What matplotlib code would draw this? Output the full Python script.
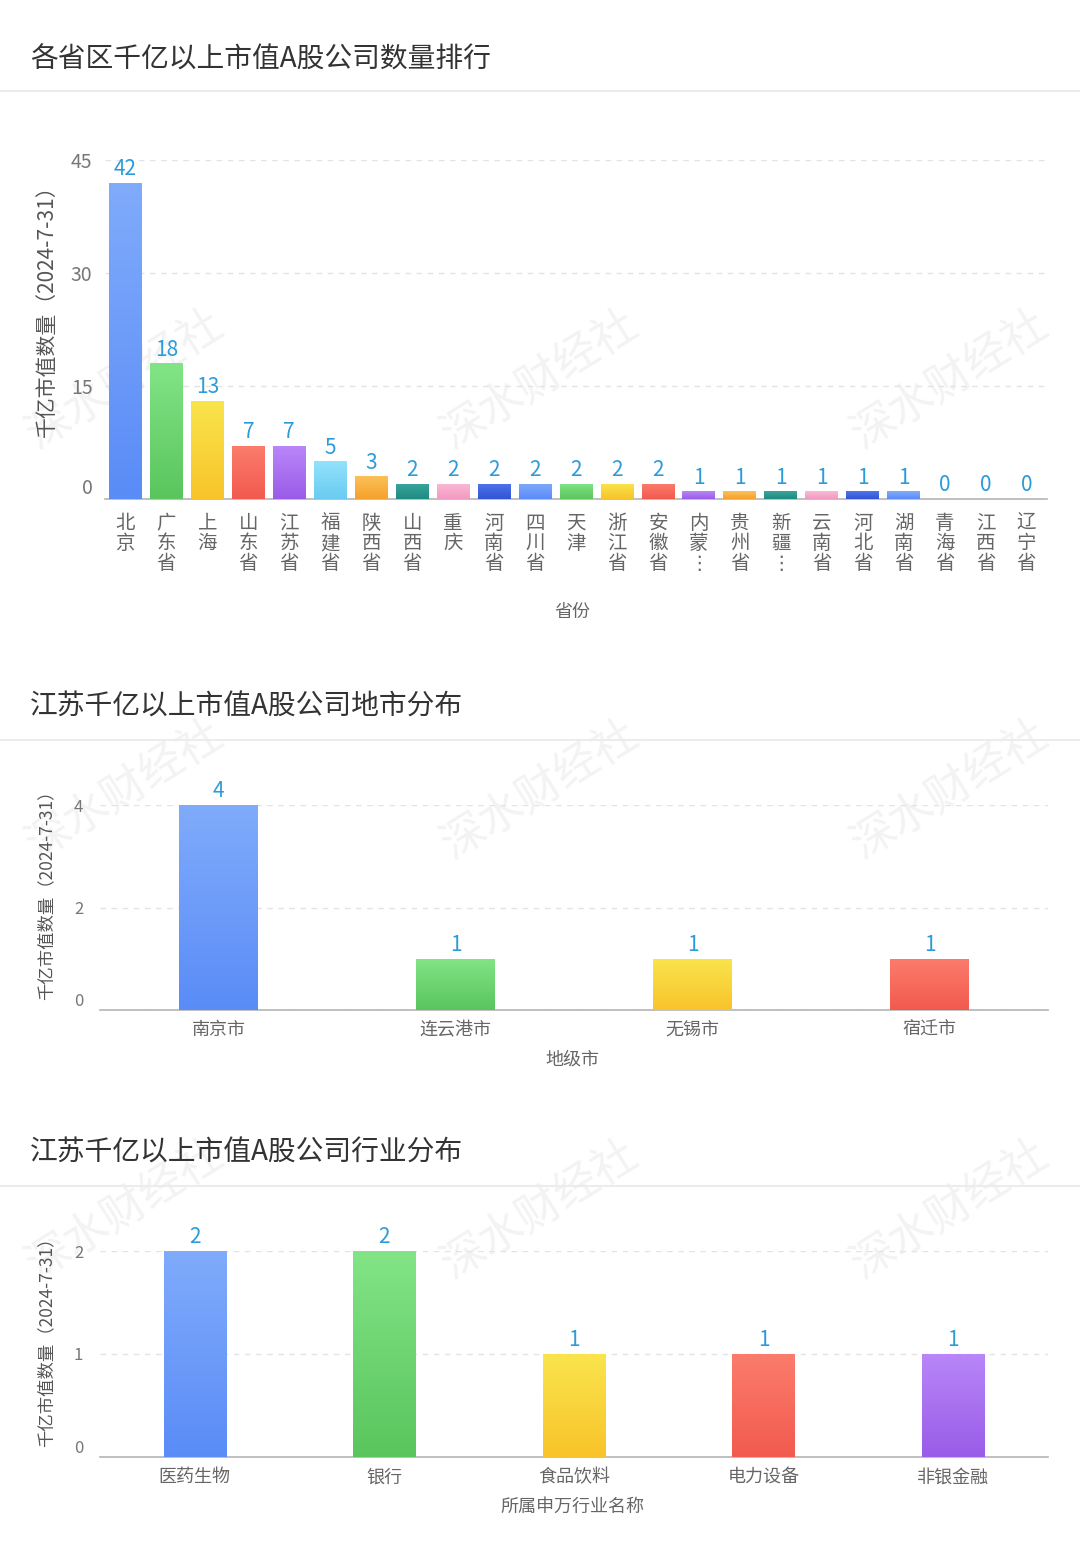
import numpy as np
import matplotlib
matplotlib.use('Agg')
from matplotlib import pyplot as plt
from matplotlib.lines import Line2D
from matplotlib.colors import LinearSegmentedColormap

plt.rcParams['font.family'] = ['Noto Sans CJK SC', 'DejaVu Sans']

# ---- data ----
provinces = ['北京', '广东省', '上海', '山东省', '江苏省', '福建省', '陕西省', '山西省', '重庆',
             '河南省', '四川省', '天津', '浙江省', '安徽省', '内蒙⋮', '贵州省', '新疆⋮', '云南省',
             '河北省', '湖南省', '青海省', '江西省', '辽宁省']
prov_counts = [42, 18, 13, 7, 7, 5, 3, 2, 2, 2, 2, 2, 2, 2, 1, 1, 1, 1, 1, 1, 0, 0, 0]

cities = ['南京市', '连云港市', '无锡市', '宿迁市']
city_counts = [4, 1, 1, 1]

industries = ['医药生物', '银行', '食品饮料', '电力设备', '非银金融']
ind_counts = [2, 2, 1, 1, 1]

# gradient colours (top, bottom)
pal = {
    'blue': ('#80abfb', '#5a8cf7'),
    'green': ('#82e486', '#5ac55d'),
    'yellow': ('#fae44c', '#f8c42a'),
    'red': ('#fb7c6c', '#f25a4f'),
    'purple': ('#b886f8', '#9a5ce8'),
    'lblue': ('#92e2fb', '#6acbf2'),
    'orange': ('#fcc058', '#f5a12d'),
    'teal': ('#39a59c', '#1e8a80'),
    'pink': ('#fab9d5', '#f29ac1'),
    'dblue': ('#4f74ea', '#3354d5'),
}
prov_colors = ['blue', 'green', 'yellow', 'red', 'purple', 'lblue', 'orange', 'teal', 'pink',
               'dblue', 'blue', 'green', 'yellow', 'red', 'purple', 'orange', 'teal', 'pink',
               'dblue', 'blue', 'blue', 'blue', 'blue']
city_colors = ['blue', 'green', 'yellow', 'red']
ind_colors = ['blue', 'green', 'yellow', 'red', 'purple']

W, H = 1080, 1550
fig = plt.figure(figsize=(W / 100, H / 100), dpi=100)
fig.patch.set_facecolor('white')

LABEL_BLUE = '#2c9bd9'
GRAY = '#666666'


def fx(px):
    return px / W


def fy(py):
    return 1 - py / H


def gradient_bars(ax, vals, colors, width):
    bars = ax.bar(range(len(vals)), vals, width=width, color=[pal[c][1] for c in colors], zorder=3)
    grad = np.linspace(0, 1, 100).reshape(-1, 1)
    for b, c in zip(bars, colors):
        if b.get_height() <= 0:
            continue
        cmap = LinearSegmentedColormap.from_list('g', [pal[c][0], pal[c][1]])
        x0 = b.get_x()
        im = ax.imshow(grad, cmap=cmap, aspect='auto', zorder=4,
                       extent=[x0, x0 + b.get_width(), 0, b.get_height()], origin='upper')
        im.set_clip_path(b)
    return bars


def style_axes(ax, n, ymax, ticks, ylabel, xlabel, xlabel_y, tick_fs, ylab_fs, ylab_xy,
               value_fs, vals, pad):
    ax.patch.set_alpha(0)
    ax.set_xlim(-0.5, n - 0.5)
    ax.set_ylim(0, ymax)
    ax.set_yticks(ticks)
    ax.set_yticklabels([str(t) for t in ticks])
    for s in ['top', 'right', 'left']:
        ax.spines[s].set_visible(False)
    ax.spines['bottom'].set_color('#b5b5b5')
    ax.spines['bottom'].set_linewidth(1.2)
    ax.tick_params(axis='y', length=0, pad=pad, labelsize=tick_fs, labelcolor='#777777')
    ax.tick_params(axis='x', length=0)
    ax.yaxis.grid(True, linestyle=(0, (4, 4)), color='#e3e3e3', linewidth=1, zorder=0)
    ax.set_axisbelow(True)
    ax.get_yticklabels()[0].set_verticalalignment('bottom')
    ax.set_ylabel(ylabel, fontsize=ylab_fs, color='#555555')
    ax.yaxis.set_label_coords(*ylab_xy)
    for i, v in enumerate(vals):
        ax.annotate(str(v), (i, v), xytext=(0, 2), textcoords='offset points',
                    ha='center', va='bottom', fontsize=value_fs, fontweight='medium',
                    color=LABEL_BLUE, zorder=5)
    fig.text(0.53, fy(xlabel_y), xlabel, ha='center', va='center', fontsize=13, color=GRAY)


# ---- watermarks (behind everything) ----
for wy in [380, 790, 1210]:
    for wx in [125, 540, 950]:
        fig.text(fx(wx), fy(wy), '深水财经社', rotation=32, fontsize=32, color='#f3f3f3',
                 ha='center', va='center', zorder=-5)

# ---- section titles & separators ----
titles = [('各省区千亿以上市值A股公司数量排行', 60, 91),
          ('江苏千亿以上市值A股公司地市分布', 707, 740),
          ('江苏千亿以上市值A股公司行业分布', 1153, 1186)]
for t, ty, sy in titles:
    fig.text(fx(30), fy(ty), t, fontsize=20, color='#333333', ha='left', va='center')
    fig.add_artist(Line2D([0, 1], [fy(sy), fy(sy)], color='#ececec', linewidth=1.5))

# ---- chart 1 ----
ax1 = fig.add_axes([fx(105), fy(499), fx(942), 339 / H])
gradient_bars(ax1, prov_counts, prov_colors, 0.8)
style_axes(ax1, len(provinces), 45, [0, 15, 30, 45], '千亿市值数量（2024-7-31）', '省份', 612,
           14, 15, (-0.05, 0.57), 15, prov_counts, 9)
ax1.set_xticks(range(len(provinces)))
ax1.set_xticklabels(['\n'.join(p) for p in provinces], fontsize=14, color=GRAY,
                    linespacing=0.95, va='top')
ax1.tick_params(axis='x', pad=10)

# ---- chart 2 ----
ax2 = fig.add_axes([fx(100), fy(1010), fx(948), 205 / H])
gradient_bars(ax2, city_counts, city_colors, 0.33)
style_axes(ax2, len(cities), 4, [0, 2, 4], '千亿市值数量（2024-7-31）', '地级市', 1060,
           12, 12.5, (-0.047, 0.58), 15, city_counts, 12)
ax2.set_xticks(range(len(cities)))
ax2.set_xticklabels(cities, fontsize=13, color=GRAY)
ax2.tick_params(axis='x', pad=8)

# ---- chart 3 ----
ax3 = fig.add_axes([fx(100), fy(1457), fx(948), 206 / H])
gradient_bars(ax3, ind_counts, ind_colors, 0.33)
style_axes(ax3, len(industries), 2, [0, 1, 2], '千亿市值数量（2024-7-31）', '所属申万行业名称', 1507,
           12, 12.5, (-0.047, 0.58), 15, ind_counts, 12)
ax3.set_xticks(range(len(industries)))
ax3.set_xticklabels(industries, fontsize=13, color=GRAY)
ax3.tick_params(axis='x', pad=8)

fig.savefig('out.png', dpi=100, facecolor='white')
plt.close(fig)
